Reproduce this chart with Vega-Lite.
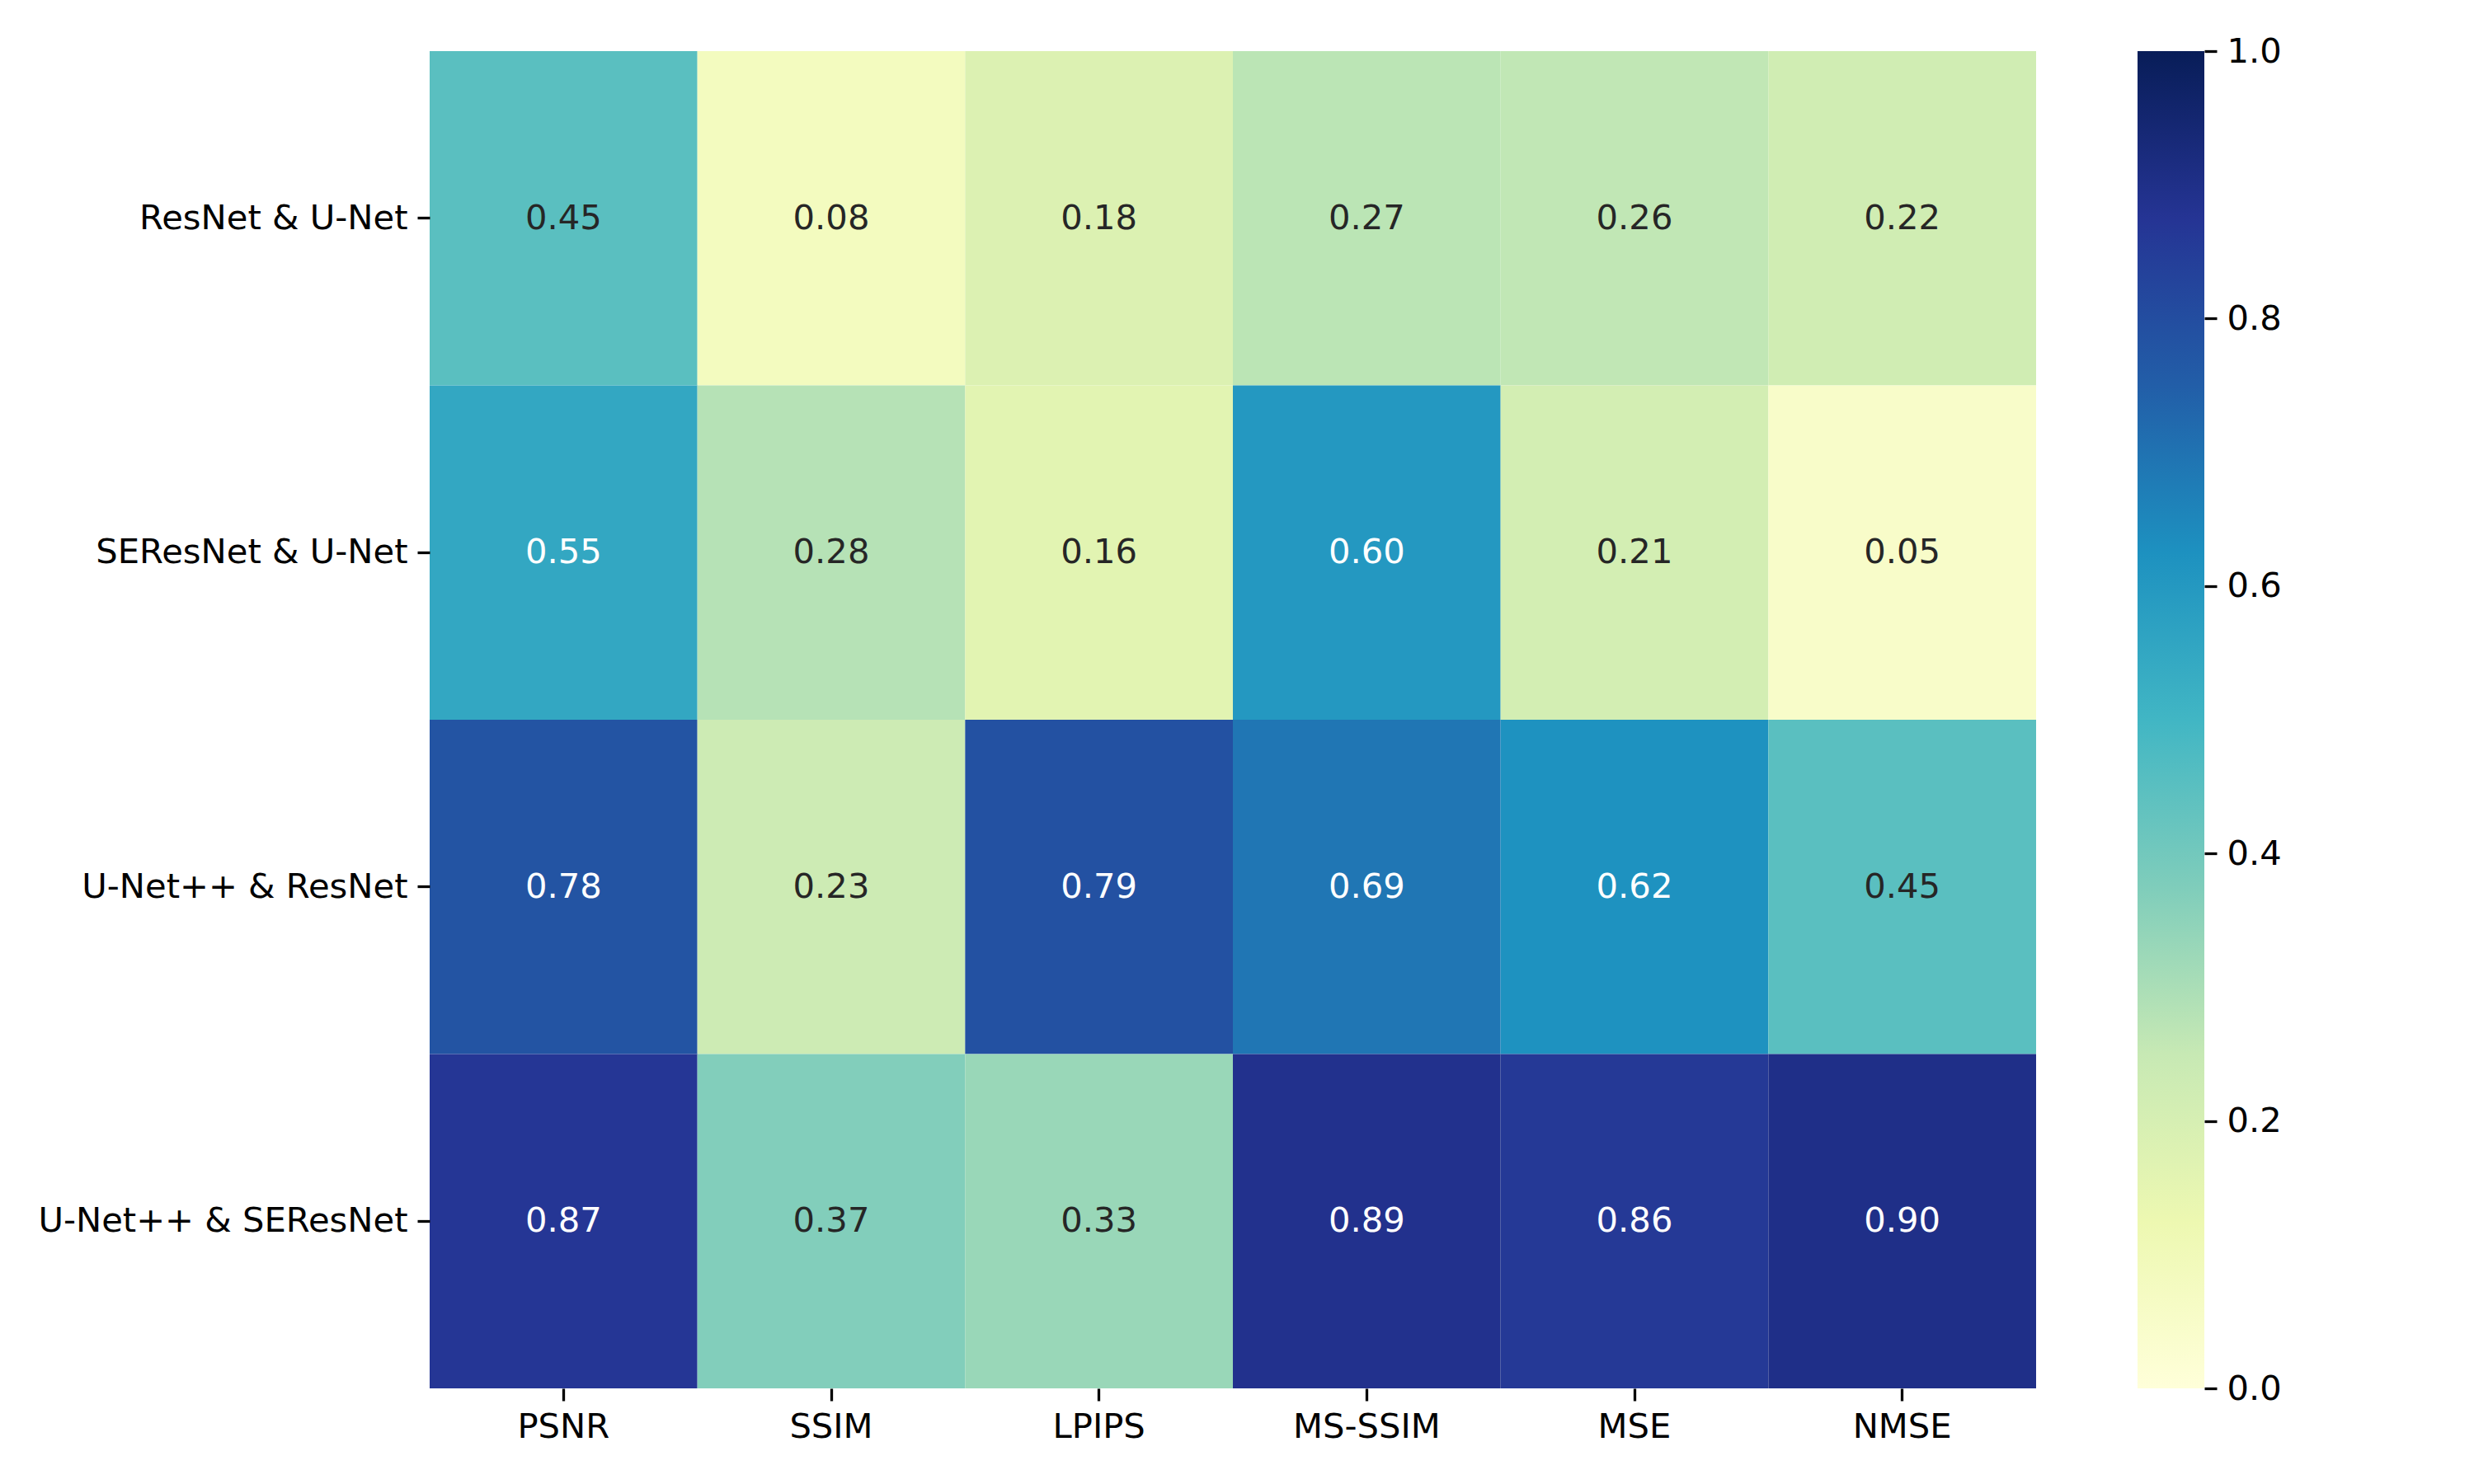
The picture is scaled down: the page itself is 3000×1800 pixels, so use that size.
{
  "$schema": "https://vega.github.io/schema/vega-lite/v6.json",
  "padding": {"left": 45, "top": 42, "right": 0, "bottom": 0},
  "background": "white",
  "config": {
    "view": {"stroke": null},
    "font": "DejaVu Sans",
    "axis": {"domain": false, "grid": false, "labelFont": "DejaVu Sans", "labelFontSize": 41.7, "labelColor": "black", "labelLimit": 0, "tickColor": "black", "tickSize": 15, "tickWidth": 3.3, "title": null}
  },
  "spacing": 122,
  "hconcat": [
    {
      "width": 1948,
      "height": 1622,
      "data": {"values": [
        {"pair": "ResNet & U-Net", "metric": "PSNR", "value": 0.45},
        {"pair": "ResNet & U-Net", "metric": "SSIM", "value": 0.08},
        {"pair": "ResNet & U-Net", "metric": "LPIPS", "value": 0.18},
        {"pair": "ResNet & U-Net", "metric": "MS-SSIM", "value": 0.27},
        {"pair": "ResNet & U-Net", "metric": "MSE", "value": 0.26},
        {"pair": "ResNet & U-Net", "metric": "NMSE", "value": 0.22},
        {"pair": "SEResNet & U-Net", "metric": "PSNR", "value": 0.55},
        {"pair": "SEResNet & U-Net", "metric": "SSIM", "value": 0.28},
        {"pair": "SEResNet & U-Net", "metric": "LPIPS", "value": 0.16},
        {"pair": "SEResNet & U-Net", "metric": "MS-SSIM", "value": 0.60},
        {"pair": "SEResNet & U-Net", "metric": "MSE", "value": 0.21},
        {"pair": "SEResNet & U-Net", "metric": "NMSE", "value": 0.05},
        {"pair": "U-Net++ & ResNet", "metric": "PSNR", "value": 0.78},
        {"pair": "U-Net++ & ResNet", "metric": "SSIM", "value": 0.23},
        {"pair": "U-Net++ & ResNet", "metric": "LPIPS", "value": 0.79},
        {"pair": "U-Net++ & ResNet", "metric": "MS-SSIM", "value": 0.69},
        {"pair": "U-Net++ & ResNet", "metric": "MSE", "value": 0.62},
        {"pair": "U-Net++ & ResNet", "metric": "NMSE", "value": 0.45},
        {"pair": "U-Net++ & SEResNet", "metric": "PSNR", "value": 0.87},
        {"pair": "U-Net++ & SEResNet", "metric": "SSIM", "value": 0.37},
        {"pair": "U-Net++ & SEResNet", "metric": "LPIPS", "value": 0.33},
        {"pair": "U-Net++ & SEResNet", "metric": "MS-SSIM", "value": 0.89},
        {"pair": "U-Net++ & SEResNet", "metric": "MSE", "value": 0.86},
        {"pair": "U-Net++ & SEResNet", "metric": "NMSE", "value": 0.90}
      ]},
      "encoding": {
        "x": {"field": "metric", "type": "nominal", "sort": ["PSNR", "SSIM", "LPIPS", "MS-SSIM", "MSE", "NMSE"], "axis": {"labelAngle": 0, "labelPadding": 11}},
        "y": {"field": "pair", "type": "nominal", "sort": ["ResNet & U-Net", "SEResNet & U-Net", "U-Net++ & ResNet", "U-Net++ & SEResNet"], "axis": {"labelPadding": 12}}
      },
      "layer": [
        {
          "mark": {"type": "rect", "strokeWidth": 0},
          "encoding": {
            "color": {
              "field": "value", "type": "quantitative", "legend": null,
              "scale": {"domain": [0, 0.125, 0.25, 0.375, 0.5, 0.625, 0.75, 0.875, 1], "range": ["#ffffd9", "#edf8b1", "#c7e9b4", "#7fcdbb", "#41b6c4", "#1d91c0", "#225ea8", "#253494", "#081d58"], "interpolate": "rgb"}
            }
          }
        },
        {
          "mark": {"type": "text", "fontSize": 41.7, "font": "DejaVu Sans", "baseline": "middle", "align": "center"},
          "encoding": {
            "text": {"field": "value", "type": "quantitative", "format": ".2f"},
            "color": {"condition": {"test": "datum.value > 0.5", "value": "white"}, "value": "#262626"}
          }
        }
      ]
    },
    {
      "width": 81,
      "height": 1622,
      "data": {"values": [{"lo": 0, "hi": 1}]},
      "mark": {"type": "rect", "strokeWidth": 0, "color": {"gradient": "linear", "x1": 0, "y1": 1, "x2": 0, "y2": 0, "stops": [
        {"offset": 0, "color": "#ffffd9"},
        {"offset": 0.125, "color": "#edf8b1"},
        {"offset": 0.25, "color": "#c7e9b4"},
        {"offset": 0.375, "color": "#7fcdbb"},
        {"offset": 0.5, "color": "#41b6c4"},
        {"offset": 0.625, "color": "#1d91c0"},
        {"offset": 0.75, "color": "#225ea8"},
        {"offset": 0.875, "color": "#253494"},
        {"offset": 1, "color": "#081d58"}
      ]}},
      "encoding": {
        "y": {"field": "lo", "type": "quantitative", "scale": {"domain": [0, 1], "nice": false, "zero": false}, "axis": {"orient": "right", "values": [0, 0.2, 0.4, 0.6, 0.8, 1.0], "format": ".1f", "labelPadding": 12, "labelBaseline": "middle"}},
        "y2": {"field": "hi"}
      }
    }
  ]
}
